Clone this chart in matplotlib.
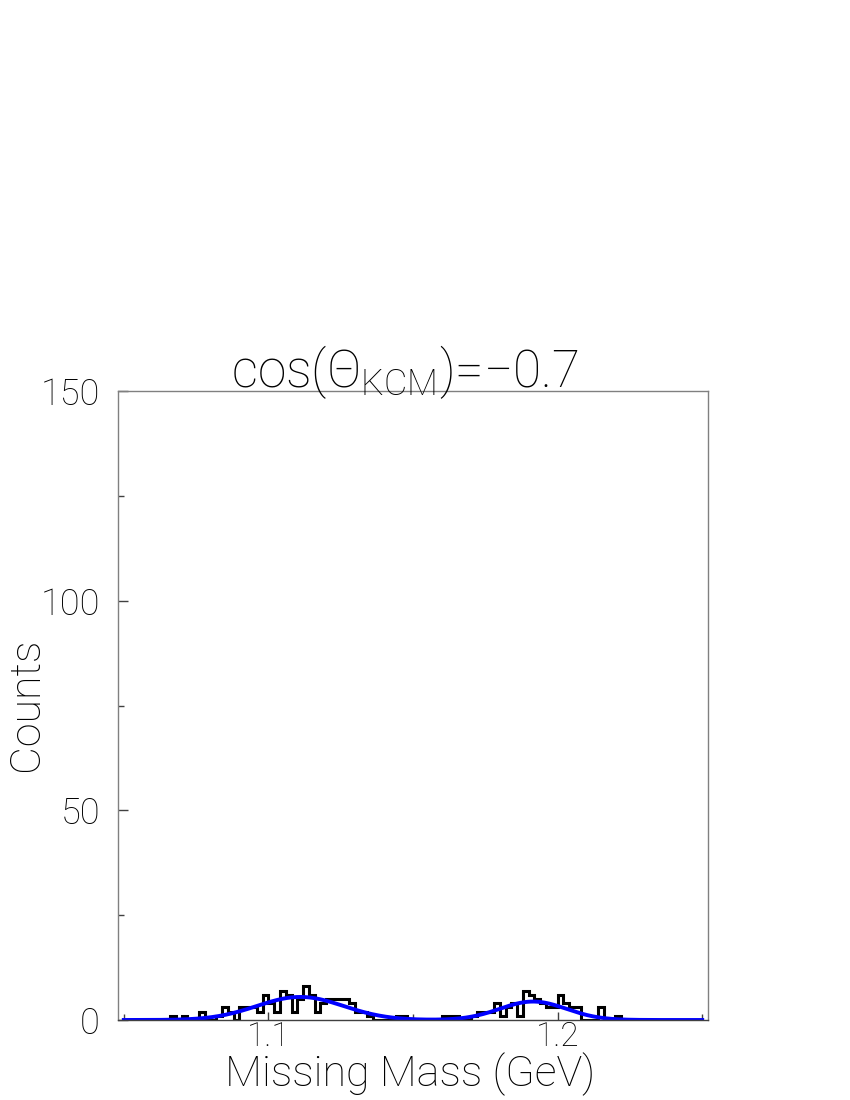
import numpy as np
import matplotlib
matplotlib.use("Agg")
import matplotlib.pyplot as plt

FONT = 'Roboto'
plt.rcParams['font.family'] = [FONT, 'DejaVu Sans']
plt.rcParams['font.weight'] = 'light'
plt.rcParams['mathtext.fontset'] = 'custom'
plt.rcParams['mathtext.rm'] = FONT + ':light'
plt.rcParams['mathtext.it'] = FONT + ':italic:light'

# histogram: 100 bins of 2 MeV from 1.05 to 1.25 GeV
bin_lo = 1.05
bin_hi = 1.25
counts = [0, 0, 0, 0, 0, 0, 0, 0, 1, 0,
          1, 0, 0, 2, 0, 0, 1, 3, 2, 0,
          3, 3, 3, 2, 6, 4, 2, 7, 6, 2,
          5, 8, 6, 2, 4, 5, 5, 5, 5, 4,
          2, 2, 1, 0, 0, 0, 0, 1, 1, 0,
          0, 0, 0, 0, 0, 1, 1, 1, 0, 0,
          1, 2, 2, 2, 4, 1, 3, 4, 1, 7,
          6, 5, 4, 3, 3, 6, 4, 3, 3, 0,
          0, 0, 3, 0, 0, 1, 0, 0, 0, 0,
          0, 0, 0, 0, 0, 0, 0, 0, 0, 0]

# fitted gaussians (amplitude, mean, sigma)
fit_lambda = [5.5, 1.111, 0.015]
fit_sigma0 = [4.4, 1.1915, 0.0115]

title = r'cos($\Theta_{\mathrm{KCM}}$)=$-$0.7'
xlabel = 'Missing Mass (GeV)'
ylabel = 'Counts'

edges = np.linspace(bin_lo, bin_hi, len(counts) + 1)
xf = np.linspace(bin_lo, bin_hi, 500)
yf = (fit_lambda[0] * np.exp(-0.5 * ((xf - fit_lambda[1]) / fit_lambda[2]) ** 2)
      + fit_sigma0[0] * np.exp(-0.5 * ((xf - fit_sigma0[1]) / fit_sigma0[2]) ** 2))

fig = plt.figure(figsize=(8.5, 11), dpi=100)
ax = fig.add_axes([118 / 850, 80 / 1100, 590 / 850, 629 / 1100])

ax.stairs(counts, edges, color='black', lw=2.2, baseline=None)
ax.plot(xf, yf, color='#0000ff', lw=2.8)

ax.set_xlim(1.048, 1.252)
ax.set_ylim(0, 150)

ax.set_xticks([1.1, 1.2])
ax.set_xticklabels(['1.1', '1.2'])
ax.set_xticks([1.05, 1.15, 1.25], minor=True)
ax.set_yticks([0, 50, 100, 150])
ax.set_yticks([25, 75, 125], minor=True)

for s in ax.spines.values():
    s.set_color('#808080')
    s.set_linewidth(1.0)
ax.spines['bottom'].set_color('#404040')

ax.tick_params(axis='both', which='both', direction='in', colors='#404040',
               labelcolor='black', width=1.0, labelsize=26)
ax.tick_params(axis='x', labelsize=24)
ax.tick_params(axis='y', which='major', length=7, pad=13)
ax.tick_params(axis='y', which='minor', length=4.5)
ax.tick_params(axis='x', which='major', length=6, pad=0.5)
ax.tick_params(axis='x', which='minor', length=4)

fig.text(410 / 850, (1100 - 1086) / 1100, xlabel, fontsize=31,
         ha='center', va='baseline')
fig.text(27 / 850, (1100 - 704) / 1100, ylabel, fontsize=31, rotation=90,
         ha='center', va='center')
fig.text(405 / 850, (1100 - 387) / 1100, title, fontsize=37,
         ha='center', va='baseline')

fig.savefig('out.png', dpi=100)
